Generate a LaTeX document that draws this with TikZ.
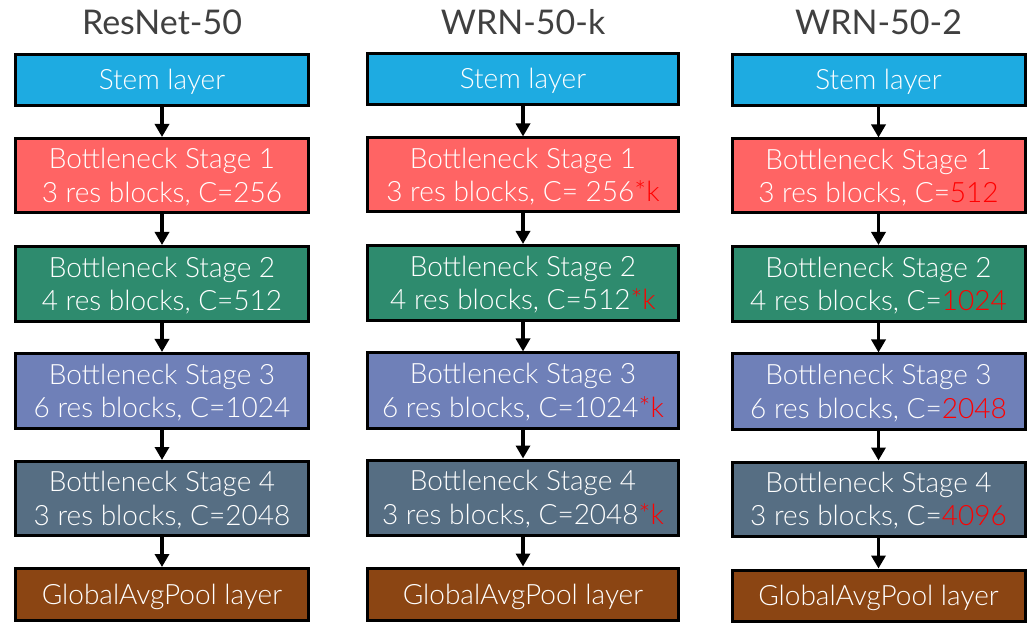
\documentclass[tikz,border=0pt]{standalone}
\usepackage{fontspec}
\setmainfont{Lato}[UprightFont={* Light}]
\newfontfamily\titlefont{Lato}
\usetikzlibrary{arrows.meta}
\definecolor{stemc}{HTML}{1EABE1}
\definecolor{s1c}{HTML}{FF6464}
\definecolor{s2c}{HTML}{2E8B6E}
\definecolor{s3c}{HTML}{6F80B8}
\definecolor{s4c}{HTML}{566E83}
\definecolor{poolc}{HTML}{8B4513}
\definecolor{titlec}{HTML}{404040}
\definecolor{hl}{HTML}{FF0000}
\tikzset{
  blk/.style={draw=black, line width=3pt, inner sep=0pt},
  lbl/.style={text=white, align=center, inner sep=0pt, anchor=base,
    font=\fontsize{28}{33.6}\selectfont},
  ttl/.style={text=titlec, font=\titlefont\fontsize{34}{40}\selectfont, inner sep=0pt, anchor=base},
  conn/.style={line width=3.5pt, -{Triangle[length=13pt,width=14pt]}},
  two/.style={yshift=-26.8pt},
  one/.style={yshift=-10pt},
}
\begin{document}
\begin{tikzpicture}[x=1pt,y=-1pt]
\useasboundingbox (0,0) rectangle (1034,628);
% ResNet-50
\node[blk, fill=stemc, minimum width=293, minimum height=51] (a0) at (162,80) {};
\node[blk, fill=s1c, minimum width=293, minimum height=74] (a1) at (162,175.5) {};
\node[blk, fill=s2c, minimum width=293, minimum height=75] (a2) at (162,284) {};
\node[blk, fill=s3c, minimum width=293, minimum height=75] (a3) at (162,391) {};
\node[blk, fill=s4c, minimum width=293, minimum height=74] (a4) at (162,498.5) {};
\node[blk, fill=poolc, minimum width=293, minimum height=52] (a5) at (162,594.5) {};
\node[ttl] (at) at (162,35) {ResNet-50};
\node[lbl, one] (a0t) at (a0.center) {Stem layer};
\node[lbl, two] (a1t) at (a1.center) {Bottleneck Stage 1\\3 res blocks, C=256};
\node[lbl, two] (a2t) at (a2.center) {Bottleneck Stage 2\\4 res blocks, C=512};
\node[lbl, two] (a3t) at (a3.center) {Bottleneck Stage 3\\6 res blocks, C=1024};
\node[lbl, two] (a4t) at (a4.center) {Bottleneck Stage 4\\3 res blocks, C=2048};
\node[lbl, one] (a5t) at (a5.center) {GlobalAvgPool layer};
% WRN-50-k
\node[blk, fill=stemc, minimum width=311, minimum height=51] (b0) at (523,79) {};
\node[blk, fill=s1c, minimum width=311, minimum height=74] (b1) at (523,175) {};
\node[blk, fill=s2c, minimum width=311, minimum height=75] (b2) at (523,283) {};
\node[blk, fill=s3c, minimum width=311, minimum height=75] (b3) at (523,390.5) {};
\node[blk, fill=s4c, minimum width=311, minimum height=75] (b4) at (523,497.5) {};
\node[blk, fill=poolc, minimum width=311, minimum height=52] (b5) at (523,594) {};
\node[ttl] (bt) at (523,35) {WRN-50-k};
\node[lbl, one] (b0t) at (b0.center) {Stem layer};
\node[lbl, two] (b1t) at (b1.center) {Bottleneck Stage 1\\3 res blocks, C= 256\textcolor{hl}{*k}};
\node[lbl, two] (b2t) at (b2.center) {Bottleneck Stage 2\\4 res blocks, C=512\textcolor{hl}{*k}};
\node[lbl, two] (b3t) at (b3.center) {Bottleneck Stage 3\\6 res blocks, C=1024\textcolor{hl}{*k}};
\node[lbl, two] (b4t) at (b4.center) {Bottleneck Stage 4\\3 res blocks, C=2048\textcolor{hl}{*k}};
\node[lbl, one] (b5t) at (b5.center) {GlobalAvgPool layer};
% WRN-50-2
\node[blk, fill=stemc, minimum width=293, minimum height=51] (c0) at (878.5,80) {};
\node[blk, fill=s1c, minimum width=293, minimum height=74] (c1) at (878.5,176) {};
\node[blk, fill=s2c, minimum width=293, minimum height=75] (c2) at (878.5,284) {};
\node[blk, fill=s3c, minimum width=293, minimum height=75] (c3) at (878.5,391.5) {};
\node[blk, fill=s4c, minimum width=293, minimum height=74] (c4) at (878.5,499) {};
\node[blk, fill=poolc, minimum width=293, minimum height=51] (c5) at (878.5,595.5) {};
\node[ttl] (ct) at (878.5,35) {WRN-50-2};
\node[lbl, one] (c0t) at (c0.center) {Stem layer};
\node[lbl, two] (c1t) at (c1.center) {Bottleneck Stage 1\\3 res blocks, C=\textcolor{hl}{512}};
\node[lbl, two] (c2t) at (c2.center) {Bottleneck Stage 2\\4 res blocks, C=\textcolor{hl}{1024}};
\node[lbl, two] (c3t) at (c3.center) {Bottleneck Stage 3\\6 res blocks, C=\textcolor{hl}{2048}};
\node[lbl, two] (c4t) at (c4.center) {Bottleneck Stage 4\\3 res blocks, C=\textcolor{hl}{4096}};
\node[lbl, one] (c5t) at (c5.center) {GlobalAvgPool layer};
\foreach \c in {a,b,c} {
  \foreach \i [evaluate=\i as \j using int(\i+1)] in {0,...,4} {
    \draw[conn] (\c\i.south) -- (\c\j.north);
  }
}
\end{tikzpicture}
\end{document}
